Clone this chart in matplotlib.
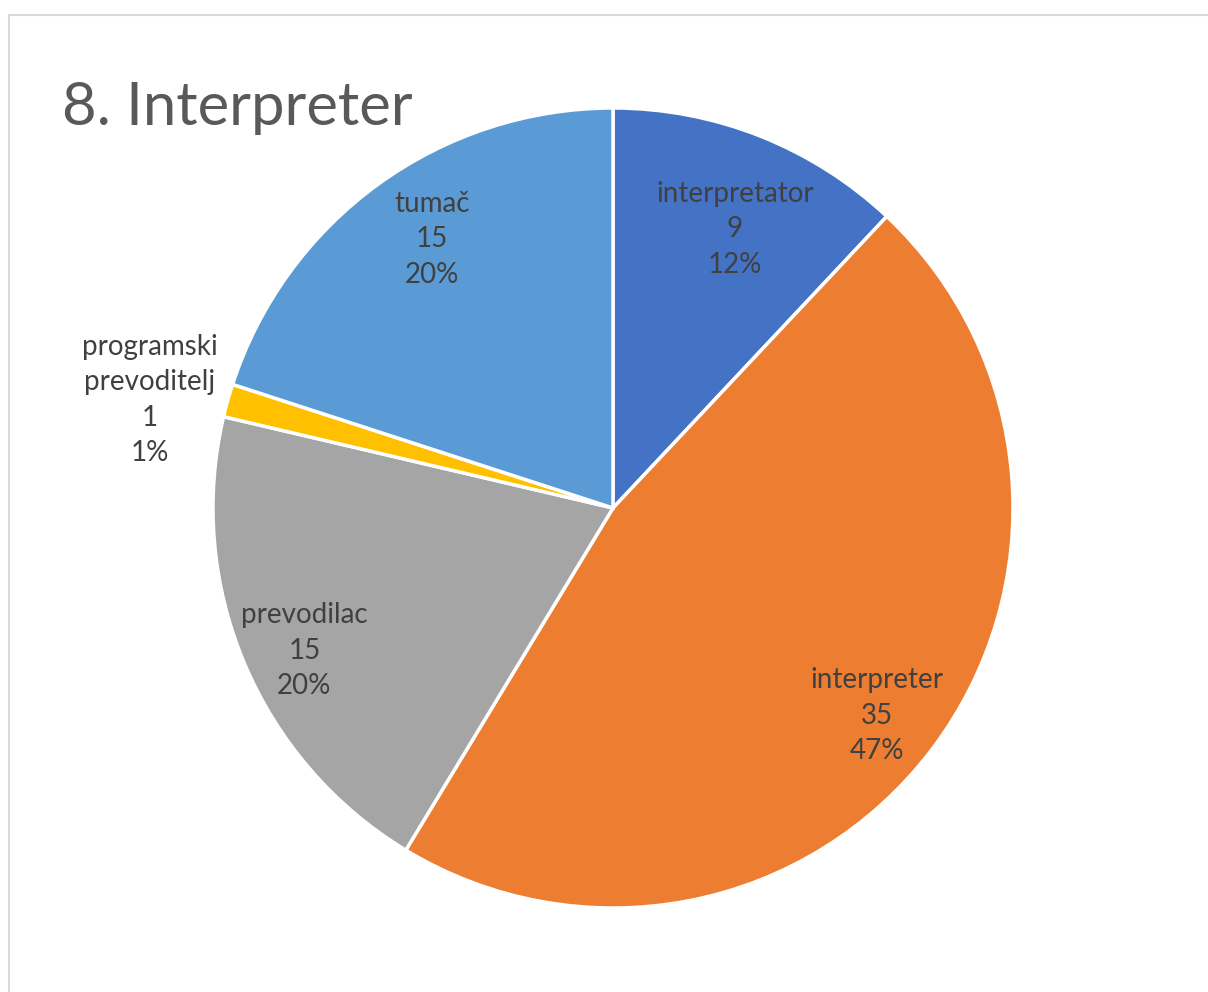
import numpy as np
import matplotlib
matplotlib.use("Agg")
from matplotlib import pyplot as plt
from matplotlib.patches import Rectangle

plt.rcParams['font.family'] = ['Lato', 'DejaVu Sans']

# data
categories = ["interpretator", "interpreter", "prevodilac", "programski\nprevoditelj", "tumač"]
counts = [9, 35, 15, 1, 15]
colors = ["#4472C4", "#ED7D31", "#A5A5A5", "#FFC000", "#5B9BD5"]

# where each label sits, as fraction of radius, plus a small angle nudge (deg)
label_dist = [0.76, 0.84, 0.85, 1.19, 0.81]
label_nudge = [-2.0, -1.0, 2.0, 2.5, -2.0]

W, H = 1208, 992
fig = plt.figure(figsize=(W / 100, H / 100), dpi=100)

# chart area frame (only left and top edges visible)
fig.patches.append(Rectangle((8.5 / W, -0.1), 2.0, 1.1 - 14.5 / H,
                             transform=fig.transFigure, fill=False,
                             edgecolor="#D9D9D9", linewidth=1.5))

cx, cy, r = 613, 508, 400
ax = fig.add_axes([(cx - r) / W, (H - cy - r) / H, 2 * r / W, 2 * r / H])

wedges, _ = ax.pie(counts, colors=colors, startangle=90, counterclock=False,
                   radius=1.0, wedgeprops=dict(edgecolor="white", linewidth=2.5))
ax.set_xlim(-1, 1)
ax.set_ylim(-1, 1)
ax.axis("off")

total = sum(counts)
for w, name, n, d, nudge in zip(wedges, categories, counts, label_dist, label_nudge):
    mid = np.deg2rad((w.theta1 + w.theta2) / 2 + nudge)
    pct = round(n / total * 100)
    ax.text(d * np.cos(mid), d * np.sin(mid), f"{name}\n{n}\n{pct}%",
            ha="center", va="center", fontsize=20, color="#404040",
            linespacing=1.45, clip_on=False)

fig.text(62 / W, 1 - 108 / H, "8. Interpreter", fontsize=43, color="#595959",
         ha="left", va="center")

fig.savefig("out.png", dpi=100, facecolor="white")
